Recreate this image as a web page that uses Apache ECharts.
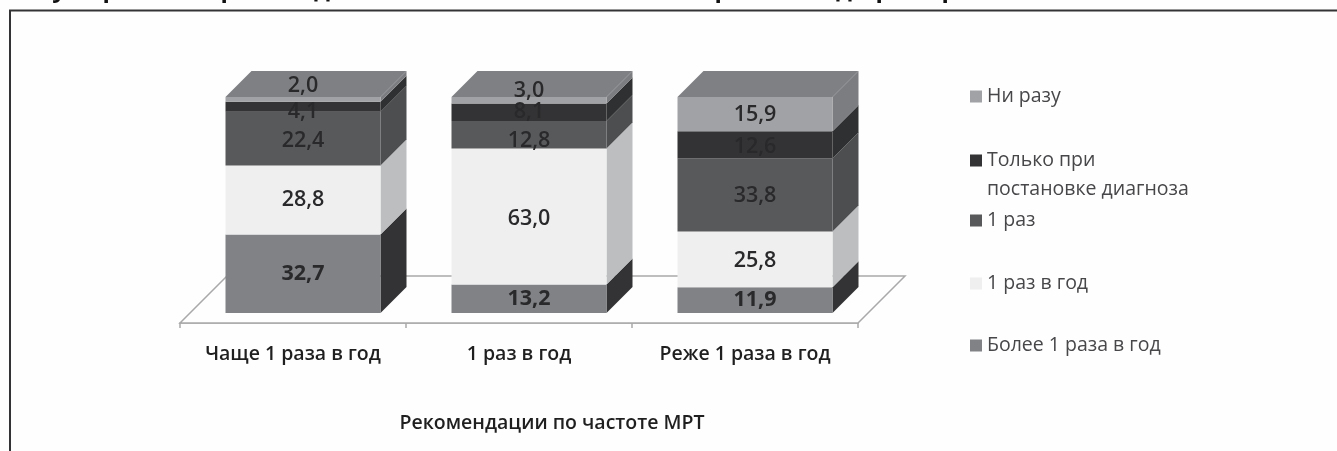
<!DOCTYPE html>
<html>
<head>
<meta charset="utf-8">
<style>html,body{margin:0;padding:0;background:#fefefe}#chart{width:1337px;height:451px}</style>
<script src="https://cdn.jsdelivr.net/npm/echarts@6/dist/echarts.min.js"></script>
</head>
<body>
<div id="chart"></div>
<script>
const categories = ['Чаще 1 раза в год', '1 раз в год', 'Реже 1 раза в год'];
const moreThanYearly = [32.7, 13.2, 11.9];
const yearly = [28.8, 63.0, 25.8];
const once = [22.4, 12.8, 33.8];
const atDiagnosis = [4.1, 8.1, 12.6];
const never = [2.0, 3.0, 15.9];
const seriesNames = ['Более 1 раза в год', '1 раз в год', '1 раз', 'Только при постановке диагноза', 'Ни разу'];
const axisTitle = 'Рекомендации по частоте МРТ';

const stack = [moreThanYearly, yearly, once, atDiagnosis, never];
const FONT = '"Open Sans", "Noto Sans", sans-serif';

// Face colours of each layer: front, right side.
const faces = [
  ['#808285', '#333335'],
  ['#efefef', '#bcbec0'],
  ['#58595b', '#4d4e50'],
  ['#333335', '#2f3031'],
  ['#a1a2a5', '#7c7d80']
];
const topFace = '#7f8083';
const textInk = '#29282a';

// Pseudo-3D geometry, in pixels.
const BAR_RATIO = 155 / 226;
const DEPTH = 26;          // depth of a column
const FLOOR_DEPTH = 47;    // depth of the floor plate
const INSET = 10;          // column set back from the floor's front edge

// Vertical nudges of the value labels, per layer and column.
const labelNudge = [
  [0, 0, 0],
  [0, 2, 1],
  [2, 6, 1],
  [5, 0, 2],
  [-14, -9, 1]
];

// Tails of the heading line that runs off the top of the page.
const headingTails = [['у', 59], ['р', 110], ['р', 228], ['д', 322], ['р', 722], ['д', 844], ['р', 883], ['р', 949]];

// Share of a column's total reached after `count` layers (columns fill 100%).
function shareUpTo(count, col) {
  const total = stack.reduce((s, arr) => s + arr[col], 0);
  let sum = 0;
  for (let i = 0; i < count; i++) sum += stack[i][col];
  return sum / total * 100;
}

function renderFloor(params, api) {
  const band = api.size([1, 0])[0];
  const first = api.coord([0, 0]);
  const last = api.coord([categories.length - 1, 0]);
  const x0 = first[0] - band / 2, x1 = last[0] + band / 2, y = first[1];
  return {
    type: 'polygon',
    shape: { points: [[x0, y], [x1, y], [x1 + FLOOR_DEPTH, y - FLOOR_DEPTH], [x0 + FLOOR_DEPTH, y - FLOOR_DEPTH]] },
    style: { fill: '#fefefe', stroke: '#a9a9ab', lineWidth: 1.5 },
    silent: true
  };
}

function layerRenderer(layer) {
  return function (params, api) {
    const col = api.value(0);
    const band = api.size([1, 0])[0];
    const w = band * BAR_RATIO;
    const cx = api.coord([col, 0])[0] + INSET;
    const yLow = api.coord([col, shareUpTo(layer, col)])[1] - INSET;
    const yHigh = api.coord([col, shareUpTo(layer + 1, col)])[1] - INSET;
    const xL = cx - w / 2, xR = cx + w / 2;
    const children = [
      { type: 'polygon', shape: { points: [[xR, yLow], [xR + DEPTH, yLow - DEPTH], [xR + DEPTH, yHigh - DEPTH], [xR, yHigh]] },
        style: { fill: faces[layer][1] } },
      { type: 'rect', shape: { x: xL, y: yHigh, width: w, height: yLow - yHigh },
        style: { fill: faces[layer][0] } }
    ];
    if (layer === stack.length - 1) {
      children.push({ type: 'polygon', shape: { points: [[xL, yHigh], [xR, yHigh], [xR + DEPTH, yHigh - DEPTH], [xL + DEPTH, yHigh - DEPTH]] },
        style: { fill: topFace } });
    }
    children.push({
      type: 'text', z2: 100,
      style: {
        x: cx, y: (yLow + yHigh) / 2 + labelNudge[layer][col],
        text: api.value(1).toFixed(1).replace('.', ','),
        align: 'center', verticalAlign: 'middle',
        font: (layer === 0 ? 'bold' : '600') + ' 21.5px ' + FONT,
        fill: textInk
      }
    });
    return { type: 'group', children };
  };
}

// Legend entries sit at fixed heights; the long one wraps, its marker staying by the first line.
const legendTops = [82, 117, 206, 269, 331];
const legends = [4, 3, 2, 1, 0].map((layer, i) => ({
  left: 970, top: legendTops[i],
  orient: 'vertical', padding: 0, selectedMode: false,
  icon: 'rect', itemWidth: 12, itemHeight: 12, itemGap: 6,
  data: [seriesNames[layer]],
  formatter: n => n === seriesNames[3] ? '\nТолько при\nпостановке диагноза' : n,
  textStyle: { fontFamily: FONT, fontSize: 19.5, color: '#47474a', lineHeight: 29 }
}));

const option = {
  animation: false,
  backgroundColor: '#fefefe',
  grid: { left: 180, top: 107, width: 678, height: 216 },
  xAxis: {
    type: 'category',
    data: categories,
    axisLine: { lineStyle: { color: '#a9a9ab', width: 1.5 } },
    axisTick: { show: true, length: 5, lineStyle: { color: '#a9a9ab', width: 1.5 } },
    axisLabel: { interval: 0, fontFamily: FONT, fontSize: 19.5, fontWeight: 600, color: '#1f1f1f', margin: 21 },
    name: axisTitle,
    nameLocation: 'middle',
    nameGap: 90,
    nameTextStyle: { fontFamily: FONT, fontSize: 19.5, fontWeight: 600, color: '#1f1f1f', padding: [0, 0, 0, 66] }
  },
  yAxis: { type: 'value', min: 0, max: 100, show: false },
  legend: legends,
  series: [
    { type: 'custom', name: 'Пол', silent: true, renderItem: renderFloor, data: [[0, 0]], encode: { x: 0, y: 1 } }
  ].concat(stack.map((values, layer) => ({
    type: 'custom',
    name: seriesNames[layer],
    itemStyle: { color: faces[layer][0] },
    renderItem: layerRenderer(layer),
    encode: { x: 0, y: 1 },
    data: values.map((v, col) => [col, v])
  }))),
  graphic: [
    // Frame open to the right and to the bottom.
    { type: 'polyline', silent: true, shape: { points: [[10, 451], [10, 10.5], [1337, 10.5]] },
      style: { fill: null, stroke: '#333335', lineWidth: 2 } }
  ].concat(headingTails.map(([ch, x]) => ({
    type: 'text', silent: true, x, y: -10,
    style: { text: ch, font: 'bold 24px ' + FONT, fill: '#111111', align: 'center', verticalAlign: 'middle' }
  })))
};

echarts.init(document.getElementById('chart'), null, { renderer: 'canvas' }).setOption(option);
</script>
</body>
</html>
